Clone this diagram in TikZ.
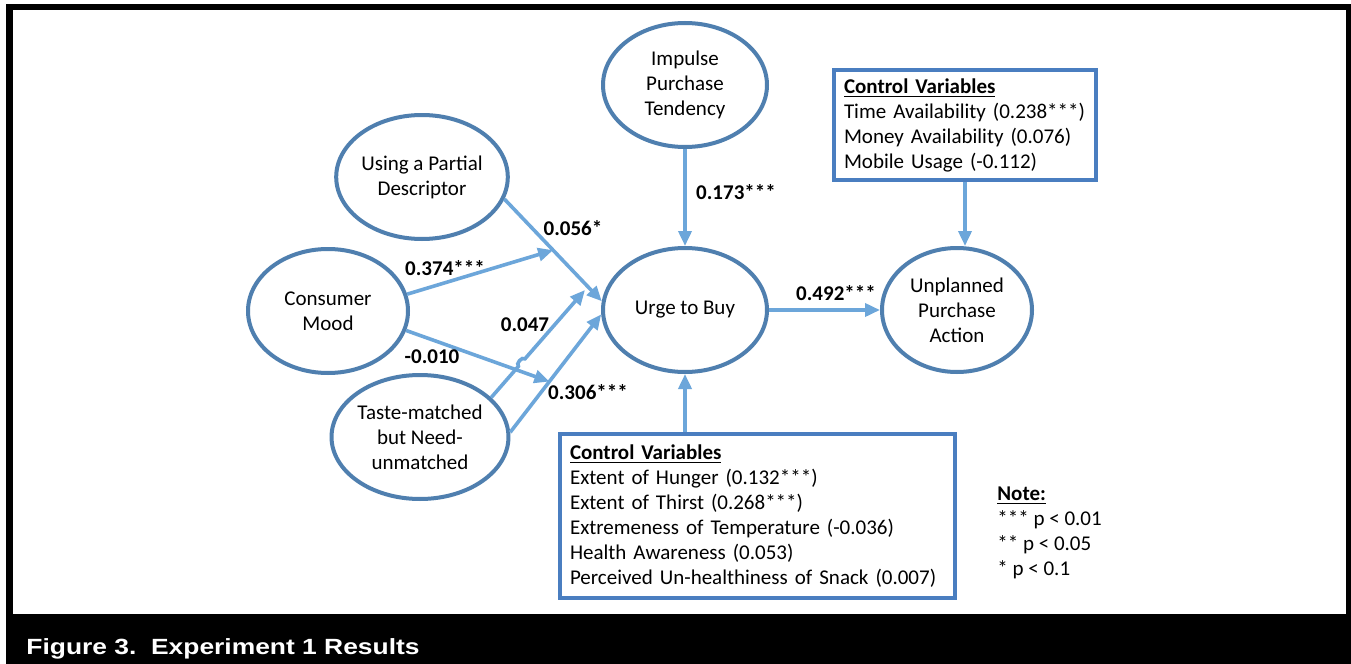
\documentclass[tikz,border=0pt]{standalone}
\usepackage{fontspec}
\setmainfont{Carlito}
\newfontfamily\capfont[FakeStretch=1.2]{Liberation Sans}
\usetikzlibrary{shapes.geometric,arrows.meta,calc}
\definecolor{ovalblue}{HTML}{4F7FAF}
\definecolor{boxblue}{HTML}{4A7EC0}
\definecolor{arrblue}{HTML}{6CA6DA}
\newcommand{\txt}{\fontsize{10.5}{12.5}\selectfont}

\begin{document}
\begin{tikzpicture}[x=0.5pt,y=-0.5pt,
    oval/.style={draw=ovalblue,line width=2pt,ellipse,minimum width=82pt,minimum height=62pt,inner sep=0pt,align=center,font=\txt},
    ctrl/.style={draw=boxblue,line width=2pt,anchor=north west,align=left,font=\txt,inner xsep=5pt,inner ysep=2pt},
    arr/.style={draw=arrblue,line width=1.8pt,-{Triangle[length=7.5pt,width=6.5pt]}},
    coef/.style={font=\txt\bfseries}]
    \useasboundingbox (0,0) rectangle (1351,664);
    \fill[white] (0,0) rectangle (1351,664);
    \fill[black] (6,4) rectangle (1351,664);
    \fill[white] (13,10) rectangle (1346,614);
    \node[anchor=base west,inner sep=0pt,text=white,font=\capfont\bfseries\fontsize{11}{12}\selectfont] (cap) at (26,654) {Figure 3.\ \ Experiment 1 Results};

    % constructs
    \node[oval] (imp) at (685,85) {Impulse\\Purchase\\Tendency};
    \node[oval] (use) at (422,177) {Using a Partial\\Descriptor};
    \node[oval,minimum width=80pt] (mood) at (328,311) {Consumer\\Mood};
    \node[oval] (taste) at (420,437) {Taste-matched\\but Need-\\unmatched};
    \node[oval] (urge) at (685,310) {Urge to Buy};
    \node[oval,minimum width=75pt] (unpl) at (957,310) {Unplanned\\Purchase\\Action};

    \node[ctrl,text width=121pt,minimum height=55pt] (ctrltop) at (832,68) {\underline{\textbf{Control Variables}}\\Time Availability (0.238***)\\Money Availability (0.076)\\Mobile Usage (-0.112)};
    \node[ctrl,text width=187.5pt,minimum height=82pt] (ctrlbot) at (558,432) {\underline{\textbf{Control Variables}}\\Extent of Hunger (0.132***)\\Extent of Thirst (0.268***)\\Extremeness of Temperature (-0.036)\\Health Awareness (0.053)\\Perceived Un-healthiness of Snack (0.007)};
    \node[anchor=north west,align=left,font=\txt,inner sep=0pt] (note) at (997,486) {\underline{\textbf{Note:}}\\*** p < 0.01\\** p < 0.05\\* p < 0.1};

    % paths
    \draw[arr] (imp) -- (urge);
    \draw[arr] (ctrltop.south) -- (ctrltop.south |- unpl.north);
    \draw[arr] (urge) -- (unpl);
    \draw[arr] (ctrlbot.north -| urge) -- (urge);
    \draw[arr] (use.-15) -- coordinate[pos=0.5] (m1) (urge.174);
    \draw[arr] (taste.3) -- coordinate[pos=0.43] (m2) (urge.183);
    \draw[arr] (mood.12) -- (m1);
    \draw[arr] (mood.-14) -- (m2);
    \coordinate (e047) at (585,290);
    \coordinate (h1) at ($(taste.29)!0.29!(e047)$);
    \coordinate (h2) at ($(taste.29)!0.36!(e047)$);
    \draw[arr] (taste.29) -- (h1) to[bend left=90] (h2) -- (e047);

    \node[coef] (c056) at (573,228) {0.056*};
    \node[coef] (c374) at (445,268) {0.374***};
    \node[coef] (c047) at (525,325) {0.047};
    \node[coef] (c010) at (432,357) {-0.010};
    \node[coef] (c306) at (588,392) {0.306***};
    \node[coef] (c173) at (736,192) {0.173***};
    \node[coef] (c492) at (836,293) {0.492***};
\end{tikzpicture}
\end{document}
